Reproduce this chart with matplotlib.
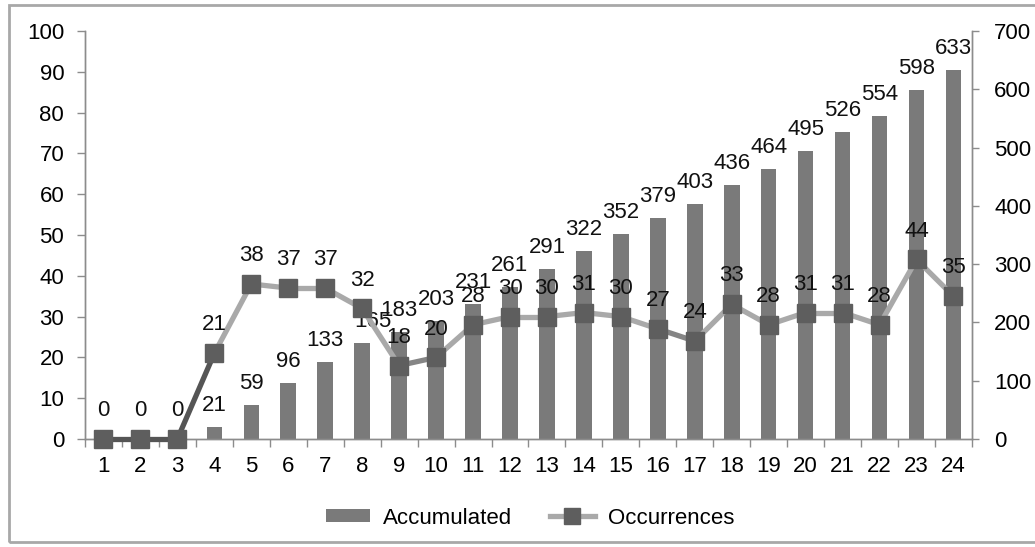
from matplotlib import pyplot as plt
from matplotlib import rcParams as mplParams
from matplotlib import lines
from matplotlib import patches
import numpy as np


mplParams["font.family"] = ["Liberation Sans", "DejaVu Sans"]
mplParams["font.size"] = 16

days = list(range(1, 25))
accumulated = [0, 0, 0, 21, 59, 96, 133, 165, 183, 203, 231, 261,
               291, 322, 352, 379, 403, 436, 464, 495, 526, 554, 598, 633]
occurrences = [0, 0, 0, 21, 38, 37, 37, 32, 18, 20, 28, 30,
               30, 31, 30, 27, 24, 33, 28, 31, 31, 28, 44, 35]

bar_color = "#7a7a7a"
marker_color = "#5e5e5e"
line_light = "#a9a9a9"
line_mid = "#858585"
line_dark = "#555555"
axis_color = "#8c8c8c"


def segment_color(i):
    # colour of the segment from point i to point i+1
    if i < 3:
        return line_dark
    if i in (8, 15):
        return line_mid
    return line_light


fig = plt.figure(figsize=(10.35, 5.47), dpi=100)
ax_bar = fig.add_axes([0.0821, 0.1974, 0.8570, 0.7459])
ax_line = ax_bar.twinx()

x = np.arange(len(days))

# accumulated bars on the right-hand scale
ax_bar.bar(x, accumulated, width=0.42, color=bar_color, zorder=2)
ax_bar.set_ylim(0, 700)
ax_bar.set_xlim(-0.5, len(days) - 0.5)
ax_bar.yaxis.tick_right()
ax_bar.set_yticks(np.arange(0, 701, 100))
for xi, v in zip(x, accumulated):
    if v == 0:
        # same spot as the occurrence label, drawn only once
        continue
    dx = 8 if xi == 7 else 0
    ax_bar.annotate(str(v), (xi, v), xytext=(dx, 11.5), textcoords="offset points",
                    ha="center", va="baseline", color="#111111")

# occurrences line on the left-hand scale
for i in range(len(x) - 1):
    ax_line.plot(x[i:i + 2], occurrences[i:i + 2], color=segment_color(i),
                 linewidth=3.8, solid_capstyle="butt", zorder=3, clip_on=False)
ax_line.plot(x, occurrences, linestyle="none", marker="s", markersize=12.5,
             color=marker_color, zorder=4, clip_on=False)
for xi, v in zip(x, occurrences):
    ax_line.annotate(str(v), (xi, v), xytext=(0, 16.5), textcoords="offset points",
                     ha="center", va="baseline", color="#111111")
ax_line.set_ylim(0, 100)
ax_line.yaxis.tick_left()
ax_line.set_yticks(np.arange(0, 101, 10))

# category ticks sit between the bars
ax_bar.set_xticks(x)
ax_bar.set_xticklabels([str(d) for d in days])
ax_bar.set_xticks(np.arange(-0.5, len(days), 1.0), minor=True)
ax_bar.tick_params(axis="x", which="major", length=0, pad=12)
ax_bar.tick_params(axis="x", which="minor", length=6, color=axis_color, width=1)
ax_bar.tick_params(axis="y", length=5, color=axis_color, width=1, pad=11)
ax_line.tick_params(axis="y", length=6, color=axis_color, width=1, pad=9)

for a in (ax_bar, ax_line):
    a.spines["top"].set_visible(False)
    for side in ("left", "right", "bottom"):
        a.spines[side].set_color(axis_color)
        a.spines[side].set_linewidth(1)
    a.patch.set_visible(False)

legend_handles = [
    patches.Patch(facecolor=bar_color, edgecolor="none", label="Accumulated"),
    lines.Line2D([], [], color=line_light, linewidth=3.8, marker="s",
                 markersize=11, markerfacecolor=marker_color,
                 markeredgecolor=marker_color, label="Occurrences"),
]
fig.legend(handles=legend_handles, loc="center", bbox_to_anchor=(0.512, 0.053),
           ncol=2, frameon=False, handlelength=2.0, handleheight=0.5,
           columnspacing=1.7, handletextpad=0.6)

# thin frame around the whole chart
fig.patches.append(patches.Rectangle((9 / 1035, 5 / 547), 1.1, 537 / 547,
                                     transform=fig.transFigure, fill=False,
                                     edgecolor="#a8a8a8", linewidth=2))

fig.savefig("out.png", dpi=100)
